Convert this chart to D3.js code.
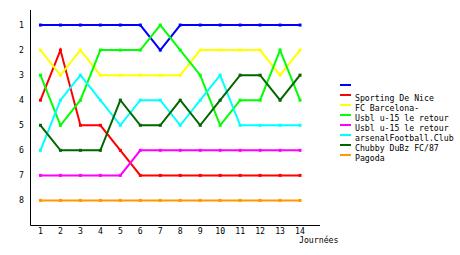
<!DOCTYPE html>
<html>
<head>
<meta charset="utf-8">
<style>
  body { margin: 0; background: #fff; }
  text { font-family: "DejaVu Sans Mono", monospace; font-size: 8.2px; fill: #000; }
</style>
</head>
<body>
<div id="viz_area"></div>

<script src="https://d3js.org/d3.v7.min.js"></script>
<script>
    // data: ranking per matchday
    var days = [1, 2, 3, 4, 5, 6, 7, 8, 9, 10, 11, 12, 13, 14];
    var rankTicks = [1, 2, 3, 4, 5, 6, 7, 8];
    var teams = ["", "Sporting De Nice", "FC Barcelona-", "Usbl u-15 le retour",
                 "Usbl u-15 le retour", "arsenalFootball.Club", "Chubby DuBz FC/87", "Pagoda"];
    var colors = ["#0000ff", "#ff0000", "#ffff00", "#00ff00", "#ff00ff", "#00ffff", "#006600", "#ff9900"];

    var blueRanks    = [1, 1, 1, 1, 1, 1, 2, 1, 1, 1, 1, 1, 1, 1];
    var redRanks     = [4, 2, 5, 5, 6, 7, 7, 7, 7, 7, 7, 7, 7, 7];
    var yellowRanks  = [2, 3, 2, 3, 3, 3, 3, 3, 2, 2, 2, 2, 3, 2];
    var greenRanks   = [3, 5, 4, 2, 2, 2, 1, 2, 3, 5, 4, 4, 2, 4];
    var magentaRanks = [7, 7, 7, 7, 7, 6, 6, 6, 6, 6, 6, 6, 6, 6];
    var cyanRanks    = [6, 4, 3, 4, 5, 4, 4, 5, 4, 3, 5, 5, 5, 5];
    var dkGreenRanks = [5, 6, 6, 6, 4, 5, 5, 4, 5, 4, 3, 3, 4, 3];
    var orangeRanks  = [8, 8, 8, 8, 8, 8, 8, 8, 8, 8, 8, 8, 8, 8];

    var series = [blueRanks, redRanks, yellowRanks, greenRanks,
                  magentaRanks, cyanRanks, dkGreenRanks, orangeRanks];

    var width = 460, height = 255;

    var svg = d3.select("#viz_area")
        .append("svg")
        .attr("width", width)
        .attr("height", height);

    // scales: x 0.5..15 -> 30..320, rank 0.4..9 -> 10..225
    var x = d3.scaleLinear().domain([0.5, 15]).range([30.5, 320]);
    var y = d3.scaleLinear().domain([0.4, 9]).range([10, 225.5]);

    // axes lines
    svg.append("line")
        .attr("x1", x(0.5)).attr("x2", x(0.5))
        .attr("y1", y(0.4)).attr("y2", y(9))
        .attr("stroke", "#000").attr("stroke-width", 1);
    svg.append("line")
        .attr("x1", x(0.5)).attr("x2", x(15))
        .attr("y1", y(9)).attr("y2", y(9))
        .attr("stroke", "#000").attr("stroke-width", 1);

    // tick labels
    svg.selectAll(".ylab").data(rankTicks).enter().append("text")
        .attr("class", "ylab")
        .attr("x", 24).attr("y", function(d) { return y(d) + 3; })
        .attr("text-anchor", "end")
        .text(function(d) { return d; });

    svg.selectAll(".xlab").data(days).enter().append("text")
        .attr("class", "xlab")
        .attr("x", function(d) { return x(d); }).attr("y", 234)
        .attr("text-anchor", "middle")
        .text(function(d) { return d; });

    svg.append("text")
        .attr("x", 299).attr("y", 243)
        .text("Journées");

    // lines + markers
    var line = d3.line()
        .x(function(d, i) { return x(days[i]); })
        .y(function(d) { return y(d); });

    series.forEach(function(s, k) {
        svg.append("path")
            .datum(s)
            .attr("d", line)
            .attr("fill", "none")
            .attr("stroke", colors[k])
            .attr("stroke-width", 2);
        svg.selectAll(".m" + k).data(s).enter().append("rect")
            .attr("class", "m" + k)
            .attr("x", function(d, i) { return x(days[i]) - 1.5; })
            .attr("y", function(d) { return y(d) - 1.5; })
            .attr("width", 3).attr("height", 3)
            .attr("fill", colors[k]);
    });

    // legend
    var leg = svg.selectAll(".leg").data(teams).enter().append("g")
        .attr("class", "leg")
        .attr("transform", function(d, i) { return "translate(340," + (85 + i * 10) + ")"; });
    leg.append("rect")
        .attr("x", 0).attr("y", -1).attr("width", 11).attr("height", 2)
        .attr("fill", function(d, i) { return colors[i]; });
    leg.append("text")
        .attr("x", 15).attr("y", 6)
        .text(function(d) { return d; });
</script>
</body>
</html>
